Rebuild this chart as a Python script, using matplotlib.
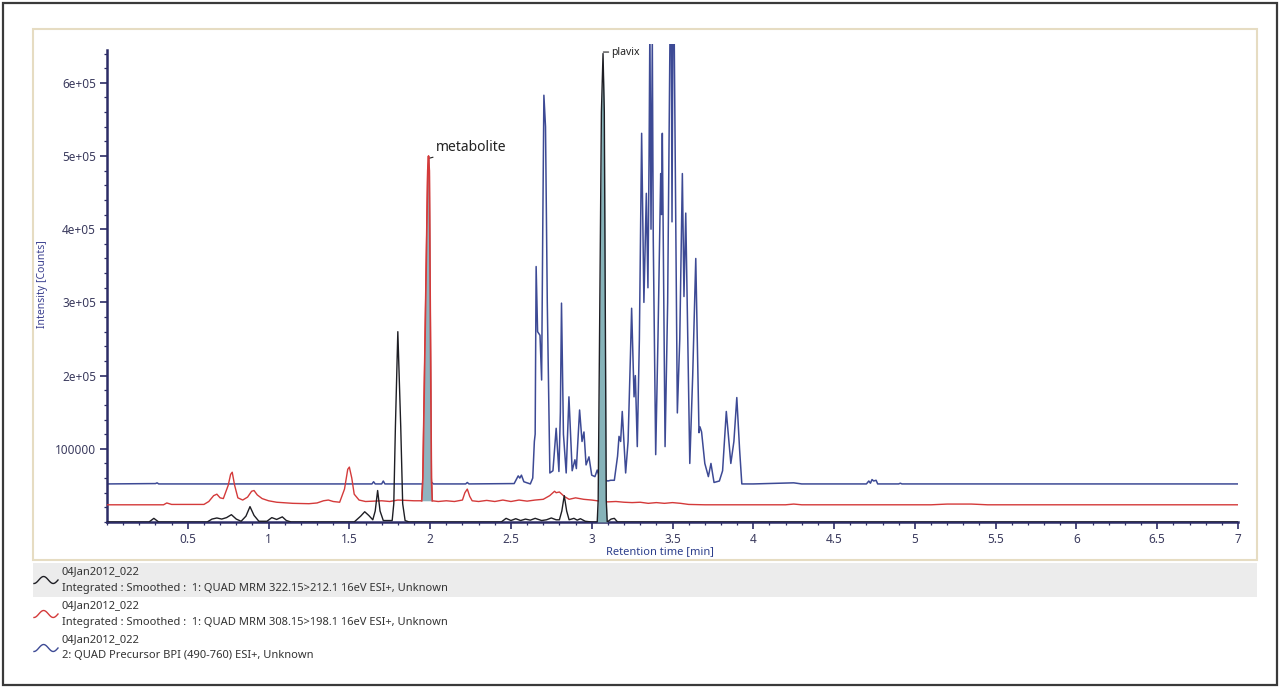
import numpy as np
import matplotlib
matplotlib.use("Agg")
import matplotlib.pyplot as plt
from matplotlib.patches import Rectangle
from matplotlib.lines import Line2D
from matplotlib.ticker import FixedLocator, MultipleLocator

plt.rcParams['font.family'] = ['Noto Sans', 'DejaVu Sans']

# black trace: MRM 322.15>212.1 (plavix)
black_t = [0.00, 0.26, 0.275, 0.29, 0.305, 0.32,
           0.62, 0.65, 0.68, 0.71, 0.74, 0.77, 0.80, 0.83, 0.86, 0.885, 0.91, 0.94, 0.99,
           1.02, 1.05, 1.085, 1.11, 1.14,
           1.53, 1.57, 1.595, 1.62, 1.645, 1.66, 1.675, 1.69, 1.71, 1.765, 1.775, 1.785,
           1.80, 1.818, 1.83, 1.845, 1.87,
           2.44, 2.47, 2.50, 2.53, 2.56, 2.59, 2.62, 2.65, 2.69, 2.72, 2.75, 2.78, 2.80,
           2.815, 2.83, 2.845, 2.86, 2.89, 2.91, 2.93, 2.96, 3.00,
           3.034, 3.04, 3.06, 3.07, 3.078, 3.09, 3.096, 3.12, 3.14, 3.16, 7.00]
black_v = [0, 0, 2500, 5000, 2500, 0,
           0, 4000, 5500, 4000, 6000, 10000, 4000, 1000, 8000, 21000, 9000, 1000, 1000,
           6000, 3500, 7000, 2000, 0,
           0, 8000, 14000, 9000, 3000, 15000, 43000, 15000, 2000, 2000, 25000, 130000,
           260000, 130000, 25000, 2000, 0,
           0, 5000, 2000, 4500, 2000, 4000, 2500, 5000, 2000, 3000, 5500, 3000, 3000,
           15000, 36000, 15000, 3000, 5000, 2500, 4500, 1000, 0,
           0, 30000, 560000, 640000, 560000, 30000, 0, 4000, 5000, 0, 0]

# red trace: MRM 308.15>198.1 (metabolite)
red_t = [0.00, 0.35, 0.37, 0.40, 0.60, 0.63, 0.66, 0.68, 0.70, 0.72, 0.75, 0.765, 0.775,
         0.79, 0.81, 0.84, 0.87, 0.895, 0.91, 0.93, 0.96, 1.00, 1.05, 1.15, 1.25, 1.30,
         1.34, 1.37, 1.40, 1.44, 1.47, 1.49, 1.50, 1.515, 1.53, 1.56, 1.60, 1.65, 1.70,
         1.75, 1.80, 1.85, 1.90, 1.94,
         1.948, 1.955, 1.985, 1.99, 1.995, 2.008, 2.013,
         2.05, 2.10, 2.15, 2.20, 2.215, 2.23, 2.245, 2.26, 2.30, 2.35, 2.40, 2.45, 2.50,
         2.55, 2.60, 2.65, 2.70, 2.74, 2.77, 2.78, 2.80, 2.83, 2.86, 2.90, 2.95, 3.00,
         3.05, 3.10, 3.15, 3.20, 3.25, 3.30, 3.35, 3.40, 3.45, 3.50, 3.55, 3.60, 3.70,
         4.20, 4.25, 4.30, 5.10, 5.20, 5.35, 5.45, 7.00]
red_v = [23500, 23500, 26000, 24000, 24000, 28000, 36000, 38000, 33000, 32000, 50000, 65000, 68000,
         50000, 33000, 30000, 34000, 42000, 43000, 37000, 32000, 29000, 27000, 25500, 25000, 26000,
         29000, 30000, 28000, 27000, 45000, 72000, 75000, 60000, 38000, 30000, 28000, 28500, 29000,
         28000, 30000, 29500, 29000, 29000,
         29000, 60000, 480000, 500000, 480000, 60000, 29000,
         28000, 29000, 28000, 30000, 40000, 45000, 35000, 29000, 28000, 29500, 28000, 30000, 28000,
         30000, 28500, 30000, 31000, 36000, 42000, 40000, 41000, 35000, 31000, 33000, 31000, 30000,
         28500, 27500, 28000, 27000, 26500, 27000, 25500, 26500, 25500, 26500, 25500, 24000, 23500,
         23500, 24500, 23500, 23500, 24500, 24500, 23500, 23500]

# blue trace: precursor BPI (490-760)
blue_t = [0.00, 0.30, 0.31, 0.32, 1.64, 1.65, 1.66, 1.70, 1.71, 1.72, 2.00, 2.01, 2.02, 2.22,
          2.23, 2.24, 2.52, 2.545, 2.555, 2.565, 2.58, 2.62, 2.635, 2.645, 2.65, 2.656, 2.665,
          2.68, 2.69, 2.697, 2.704, 2.714, 2.725, 2.741, 2.76, 2.78, 2.797, 2.806, 2.813, 2.825,
          2.842, 2.859, 2.879, 2.896, 2.905, 2.925, 2.94, 2.952, 2.965, 2.983, 3.00, 3.02, 3.034,
          3.05, 3.10, 3.117, 3.14, 3.16, 3.169, 3.179, 3.189, 3.21, 3.225, 3.24, 3.247, 3.262,
          3.27, 3.282, 3.295, 3.309, 3.323, 3.338, 3.348, 3.355, 3.36, 3.367, 3.375, 3.381,
          3.396, 3.41, 3.427, 3.432, 3.437, 3.454, 3.47, 3.485, 3.492, 3.497, 3.503, 3.51, 3.53,
          3.545, 3.561, 3.571, 3.582, 3.607, 3.625, 3.644, 3.664, 3.67, 3.68, 3.70, 3.722, 3.738,
          3.757, 3.79, 3.81, 3.833, 3.861, 3.88, 3.898, 3.915, 3.929, 4.00, 4.25, 4.30, 4.70,
          4.715, 4.725, 4.735, 4.745, 4.76, 4.77, 4.90, 4.91, 4.92, 7.00]
blue_v = [52000, 52500, 53500, 52000, 52000, 55000, 52000, 52000, 56000, 52000, 52000, 54000, 52000, 52000,
          54000, 52000, 52500, 63000, 60000, 64000, 55000, 52000, 60000, 110000, 120000, 349000, 260000,
          255000, 194000, 400000, 583000, 540000, 300000, 67000, 70000, 128000, 69000, 150000, 299000, 120000,
          67000, 171000, 70000, 85000, 73000, 153000, 110000, 123000, 78000, 89000, 64000, 62000, 71000,
          60000, 56000, 57000, 57000, 90000, 117000, 110000, 151000, 67000, 110000, 230000, 292000, 171000,
          200000, 103000, 250000, 531000, 300000, 449000, 320000, 500000, 680000, 400000, 660000, 385000,
          92000, 250000, 476000, 420000, 531000, 103000, 300000, 680000, 700000, 410000, 700000, 680000, 149000,
          250000, 476000, 308000, 422000, 80000, 200000, 360000, 122000, 130000, 123000, 80000, 62000, 80000,
          54000, 56000, 70000, 151000, 80000, 110000, 170000, 100000, 52000, 52000, 53500, 52000, 52000,
          56000, 53000, 58000, 56000, 57000, 52000, 52000, 53000, 52000, 52000]

y_ticks = [100000, 200000, 300000, 400000, 500000, 600000]
y_tick_labels = ["100000", "2e+05", "3e+05", "4e+05", "5e+05", "6e+05"]
x_ticks = [0.5, 1, 1.5, 2, 2.5, 3, 3.5, 4, 4.5, 5, 5.5, 6, 6.5, 7]
x_tick_labels = ["0.5", "1", "1.5", "2", "2.5", "3", "3.5", "4", "4.5", "5", "5.5", "6", "6.5", "7"]

legend_names = ["04Jan2012_022", "04Jan2012_022", "04Jan2012_022"]
legend_desc = ["Integrated : Smoothed :  1: QUAD MRM 322.15>212.1 16eV ESI+, Unknown",
               "Integrated : Smoothed :  1: QUAD MRM 308.15>198.1 16eV ESI+, Unknown",
               "2: QUAD Precursor BPI (490-760) ESI+, Unknown"]

c_black = "#1e1e24"
c_red = "#d43a3a"
c_blue = "#3d4a95"
c_fill = "#90b3bf"
c_axis = "#2c2c66"

black_t = np.array(black_t); black_v = np.array(black_v)
red_t = np.array(red_t); red_v = np.array(red_v)
blue_t = np.array(blue_t); blue_v = np.array(blue_v)

W, H = 1280, 688
fig = plt.figure(figsize=(W / 100, H / 100), dpi=100)
fig.patch.set_facecolor("white")

# outer frame, inner chart frame, grey legend row
fig.add_artist(Rectangle((3 / W, 3 / H), 1274 / W, 682 / H, transform=fig.transFigure,
                         fill=False, edgecolor="#3a3a3a", lw=1.6))
fig.add_artist(Rectangle((33 / W, 1 - 560 / H), 1224 / W, 531 / H, transform=fig.transFigure,
                         fill=False, edgecolor="#e6dcc2", lw=1.5))
fig.add_artist(Rectangle((33 / W, 1 - 597 / H), 1224 / W, 34 / H, transform=fig.transFigure,
                         facecolor="#ececec", edgecolor="none"))

ax = fig.add_axes([107 / W, 1 - 522 / H, 1131 / W, 478 / H])
ax.set_xlim(0, 7)
ax.set_ylim(0, 653000)

ax.plot(blue_t, blue_v, color=c_blue, lw=1.1, zorder=2)
ax.plot(red_t, red_v, color=c_red, lw=1.0, zorder=3)

# integrated peak areas
met = (red_t >= 1.948) & (red_t <= 2.013)
ax.fill_between(red_t[met], 29000, red_v[met], color=c_fill, zorder=4, lw=0)
ax.plot(red_t[met], red_v[met], color=c_red, lw=1.2, zorder=5)
plv = (black_t >= 3.034) & (black_t <= 3.096)
ax.fill_between(black_t[plv], 0, black_v[plv], color="#86b3b9", zorder=4, lw=0)
ax.plot(black_t, black_v, color=c_black, lw=1.0, zorder=5)

ax.annotate("metabolite", xy=(1.995, 497000), xytext=(2.035, 512000), fontsize=10,
            color="#222222", va="center", ha="left",
            arrowprops=dict(arrowstyle="-", color="#222222", lw=0.8, shrinkA=0, shrinkB=0))
ax.annotate("plavix", xy=(3.072, 642000), xytext=(3.122, 642000), fontsize=7.5,
            color="#222222", va="center", ha="left",
            arrowprops=dict(arrowstyle="-", color="#222222", lw=0.8, shrinkA=0, shrinkB=0))

for s in ["top", "right"]:
    ax.spines[s].set_visible(False)
ax.spines["left"].set_bounds(0, 645000)
for s in ["left", "bottom"]:
    ax.spines[s].set_color(c_axis)
    ax.spines[s].set_linewidth(1.8)

ax.yaxis.set_major_locator(FixedLocator(y_ticks))
ax.set_yticklabels(y_tick_labels)
ax.yaxis.set_minor_locator(MultipleLocator(20000))
ax.xaxis.set_major_locator(FixedLocator(x_ticks))
ax.set_xticklabels(x_tick_labels)
ax.xaxis.set_minor_locator(MultipleLocator(0.1))
ax.tick_params(which="major", direction="out", length=5, width=1.2, color=c_axis,
               labelcolor="#3b3b5e", labelsize=8.5, pad=3)
ax.tick_params(which="minor", direction="out", length=2.5, width=0.9, color=c_axis)
ax.set_facecolor("none")

fig.text(42 / W, 1 - 284 / H, "Intensity [Counts]", rotation=90, color="#3a3f8f",
         fontsize=7.5, ha="center", va="center")
fig.text(660 / W, 1 - 552 / H, "Retention time [min]", color="#2c3e8c",
         fontsize=8, ha="center", va="center")

# legend rows, each with a small wavy line icon (low left, hump, dip, rising tail)
row_colors = [c_black, c_red, c_blue]
wave = np.linspace(0, 1, 30)
for i in range(3):
    y1 = 572 + 34 * i
    icon_x = (34 + 24 * wave) / W
    icon_y = 1 - (y1 + 8 + 3.5 * np.cos(2.5 * np.pi * wave)) / H
    fig.add_artist(Line2D(icon_x, icon_y, transform=fig.transFigure,
                          color=row_colors[i], lw=1.0))
    fig.text(62 / W, 1 - y1 / H, legend_names[i], color="#333333", fontsize=8,
             ha="left", va="center")
    fig.text(62 / W, 1 - (y1 + 16) / H, legend_desc[i], color="#333333", fontsize=8,
             ha="left", va="center")

fig.savefig("out.png", dpi=100)
